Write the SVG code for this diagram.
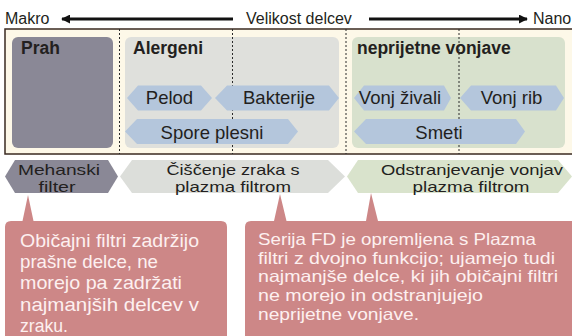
<svg xmlns="http://www.w3.org/2000/svg" width="572" height="336" viewBox="0 0 572 336">
<defs>
<style>
text{font-family:"Liberation Sans",Arial,sans-serif;fill:#231f20}
.axis{font-size:16px}
.hdr{font-size:17.5px;font-weight:bold}
.pill{fill:#b4c6dc}
.pt{font-size:18.5px;text-anchor:middle}
.lt{font-size:15px;text-anchor:middle}
.div{stroke:#2a2a2a;stroke-width:1;stroke-dasharray:2,2;fill:none}
.call{fill:#cd8787}
.ct{fill:#fdf0f0}
</style>
<marker id="ah" viewBox="0 0 10 10" refX="9" refY="5" markerWidth="3" markerHeight="3" orient="auto-start-reverse">
<path d="M0,0 L10,5 L0,10 z" fill="#111"/>
</marker>
</defs>
<rect width="572" height="336" fill="#ffffff"/>

<g id="axis">
<text class="axis" x="5" y="24">Makro</text>
<text class="axis" x="246" y="24">Velikost delcev</text>
<text class="axis" x="533" y="24">Nano</text>
</g>

<g id="frame">
<rect x="5" y="29" width="580" height="125" fill="#fdf8e8" stroke="#3a2a20" stroke-width="1.5"/>
</g>

<g id="prah">
<rect x="12" y="37" width="101" height="111" rx="6" fill="#8a8896"/>
<text class="hdr" x="21" y="54">Prah</text>
</g>
<g id="alergeni">
<rect x="125" y="37" width="214" height="111" rx="6" fill="#dfe0dc"/>
<text class="hdr" x="133" y="54">Alergeni</text>
</g>
<g id="vonjave">
<rect x="352" y="37" width="213" height="111" rx="6" fill="#d8e1cd"/>
<text class="hdr" x="357" y="54">neprijetne vonjave</text>
</g>

<g id="dividers">
<line class="div" x1="119.5" y1="29" x2="119.5" y2="154"/>
<line class="div" x1="232.5" y1="29" x2="232.5" y2="154"/>
<line class="div" x1="346" y1="29" x2="346" y2="154"/>
<line class="div" x1="459" y1="29" x2="459" y2="154"/>
</g>

<g id="pelod">
<polygon class="pill" points="127,98 138,85.5 201,85.5 212,98 201,110.5 138,110.5"/>
<text class="pt" x="169.5" y="104">Pelod</text>
</g>
<g id="bakterije">
<polygon class="pill" points="215,98 227,85.5 329,85.5 339,98 329,110.5 227,110.5"/>
<text class="pt" x="279" y="104">Bakterije</text>
</g>
<g id="spore">
<polygon class="pill" points="125,131.5 137,119 288,119 298,131.5 288,144 137,144"/>
<text class="pt" x="212" y="139">Spore plesni</text>
</g>
<g id="zivali">
<polygon class="pill" points="354,98 364,85.5 444,85.5 451,98 444,110.5 364,110.5"/>
<text class="pt" x="400" y="104">Vonj živali</text>
</g>
<g id="rib">
<polygon class="pill" points="460,98 471,85.5 556,85.5 564,98 556,110.5 471,110.5"/>
<text class="pt" x="511.5" y="104">Vonj rib</text>
</g>
<g id="smeti">
<polygon class="pill" points="354,131.5 366,119 516,119 525,131.5 516,144 366,144"/>
<text class="pt" x="439" y="139">Smeti</text>
</g>

<g id="mehanski">
<polygon points="5,176.5 15,160 108,160 118,176.5 108,193 15,193" fill="#8a8896"/>
<text class="lt" x="59" y="175" textLength="82" lengthAdjust="spacingAndGlyphs">Mehanski</text>
<text class="lt" x="57" y="191.5" textLength="37" lengthAdjust="spacingAndGlyphs">filter</text>
</g>
<g id="ciscenje">
<polygon points="120,176.5 132,160 328,160 345,176.5 328,193 132,193" fill="#dcdeda"/>
<text class="lt" x="233" y="175" textLength="133" lengthAdjust="spacingAndGlyphs">Čiščenje zraka s</text>
<text class="lt" x="233" y="191.5" textLength="116" lengthAdjust="spacingAndGlyphs">plazma filtrom</text>
</g>
<g id="odstranjevanje">
<polygon points="347,176.5 358,160 558,160 572,176.5 558,193 358,193" fill="#d9e3cc"/>
<text class="lt" x="472" y="175" textLength="182" lengthAdjust="spacingAndGlyphs">Odstranjevanje vonjav</text>
<text class="lt" x="471" y="191.5" textLength="117" lengthAdjust="spacingAndGlyphs">plazma filtrom</text>
</g>

<g id="callout-left">
<path class="call" d="M28,195 L33.5,221 L221,221 Q227,221 227,227 L227,340 L5,340 L5,227 Q5,221 11,221 L22.5,221 Z"/>
<g font-size="18.5">
<text class="ct" x="20" y="246.5" textLength="179" lengthAdjust="spacingAndGlyphs">Običajni filtri zadržijo</text>
<text class="ct" x="20" y="268" textLength="138" lengthAdjust="spacingAndGlyphs">prašne delce, ne</text>
<text class="ct" x="20" y="289.3" textLength="162" lengthAdjust="spacingAndGlyphs">morejo pa zadržati</text>
<text class="ct" x="20" y="310.6" textLength="179" lengthAdjust="spacingAndGlyphs">najmanjših delcev v</text>
<text class="ct" x="20" y="332" textLength="48" lengthAdjust="spacingAndGlyphs">zraku.</text>
</g>
</g>
<g id="callout-right">
<path class="call" d="M280,194 L286.5,221 L366,221 L371,193 L378,221 L580,221 L580,340 L245,340 L245,227 Q245,221 251,221 L274,221 Z"/>
<g font-size="16.5">
<text class="ct" x="258" y="245" textLength="278" lengthAdjust="spacingAndGlyphs">Serija FD je opremljena s Plazma</text>
<text class="ct" x="258" y="263.7" textLength="297" lengthAdjust="spacingAndGlyphs">filtri z dvojno funkcijo; ujamejo tudi</text>
<text class="ct" x="258" y="282.4" textLength="300" lengthAdjust="spacingAndGlyphs">najmanjše delce, ki jih običajni filtri</text>
<text class="ct" x="258" y="301" textLength="225" lengthAdjust="spacingAndGlyphs">ne morejo in odstranjujejo</text>
<text class="ct" x="258" y="319.7" textLength="161" lengthAdjust="spacingAndGlyphs">neprijetne vonjave.</text>
</g>
</g>

<g id="connectors">
<line x1="233" y1="19" x2="62" y2="19" stroke="#111" stroke-width="3" marker-end="url(#ah)"/>
<line x1="369" y1="19" x2="527" y2="19" stroke="#111" stroke-width="3" marker-end="url(#ah)"/>
</g>
</svg>
